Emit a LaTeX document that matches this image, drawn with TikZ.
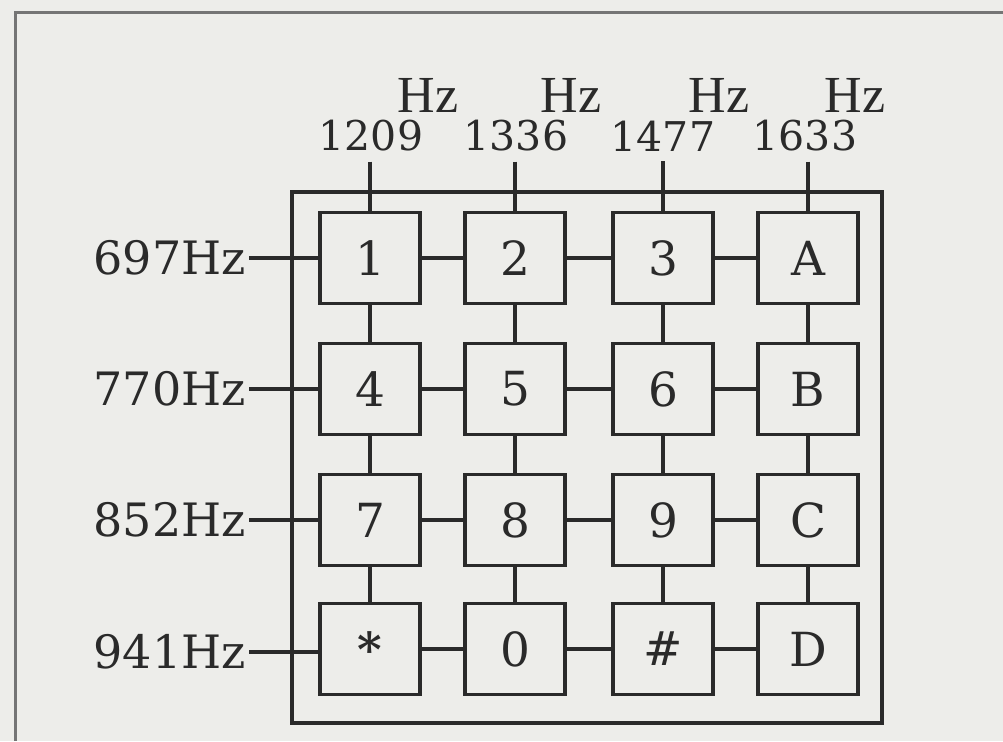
\documentclass[tikz,border=0pt]{standalone}
\usepackage{fontspec}
\setmainfont{DejaVu Serif}
\newfontfamily\hzfont{Liberation Serif}
\definecolor{bg}{HTML}{EDEDEA}
\definecolor{ink}{HTML}{2A2A2A}
\begin{document}
\begin{tikzpicture}[x=1pt,y=-1pt,
  wire/.style={draw=ink,line width=3.2pt},
  frame/.style={draw=ink!65,line width=3pt},
  key/.style={draw=ink,line width=3.4pt,minimum width=100pt,minimum height=91pt,inner sep=0pt,
    font=\fontsize{47}{47}\selectfont,text=ink},
  rowlab/.style={anchor=east,inner sep=3pt,font=\fontsize{46}{46}\selectfont,text=ink},
  collab/.style={inner sep=0pt,font=\fontsize{41}{41}\selectfont,text=ink},
  hzlab/.style={inner sep=0pt,font=\hzfont\fontsize{52}{52}\selectfont,text=ink}]
\fill[bg] (0,0) rectangle (1003,741);
\useasboundingbox (0,0) rectangle (1003,741);
% outer page frame
\draw[frame] (1003,13) -- (15,13) -- (15,741);
% inner rectangle
\draw[wire] (292,192) rectangle (882,723);
% keys
\foreach \r/\y in {1/258,2/389,3/520,4/649}{
  \foreach \c/\x in {1/370,2/515,3/663,4/808}{
    \coordinate (p\r\c) at (\x,\y);
  }
}
\node[key] (k11) at (p11) {1};
\node[key] (k12) at (p12) {2};
\node[key] (k13) at (p13) {3};
\node[key] (k14) at (p14) {A};
\node[key] (k21) at (p21) {4};
\node[key] (k22) at (p22) {5};
\node[key] (k23) at (p23) {6};
\node[key] (k24) at (p24) {B};
\node[key] (k31) at (p31) {7};
\node[key] (k32) at (p32) {8};
\node[key] (k33) at (p33) {9};
\node[key] (k34) at (p34) {C};
\node[key] (k41) at (p41) {\raisebox{-6pt}{\bfseries *}};
\node[key] (k42) at (p42) {0};
\node[key] (k43) at (p43) {\#};
\node[key] (k44) at (p44) {D};
% row labels
\node[rowlab] (r1) at (249,258) {697Hz};
\node[rowlab] (r2) at (249,389) {770Hz};
\node[rowlab] (r3) at (249,520) {852Hz};
\node[rowlab] (r4) at (249,652) {941Hz};
% column labels
\node[collab] (n1) at (371,136) {1209};
\node[collab] (n2) at (516,136) {1336};
\node[collab] (n3) at (663,136) {1477};
\node[collab] (n4) at (805,136) {1633};
\node[hzlab] (h1) at (428,95) {Hz};
\node[hzlab] (h2) at (571,95) {Hz};
\node[hzlab] (h3) at (719,95) {Hz};
\node[hzlab] (h4) at (855,95) {Hz};
% row wires
\foreach \r in {1,2,3,4}{
  \draw[wire] (r\r.east) -- (r\r.east -| k\r1.west);
  \draw[wire] (k\r1.east) -- (k\r2.west);
  \draw[wire] (k\r2.east) -- (k\r3.west);
  \draw[wire] (k\r3.east) -- (k\r4.west);
}
% column wires
\foreach \c in {1,2,3,4}{
  \draw[wire,shorten <=10pt] (n\c.south -| k1\c.north) -- (k1\c.north);
  \draw[wire] (k1\c.south) -- (k2\c.north);
  \draw[wire] (k2\c.south) -- (k3\c.north);
  \draw[wire] (k3\c.south) -- (k4\c.north);
}
\end{tikzpicture}
\end{document}
